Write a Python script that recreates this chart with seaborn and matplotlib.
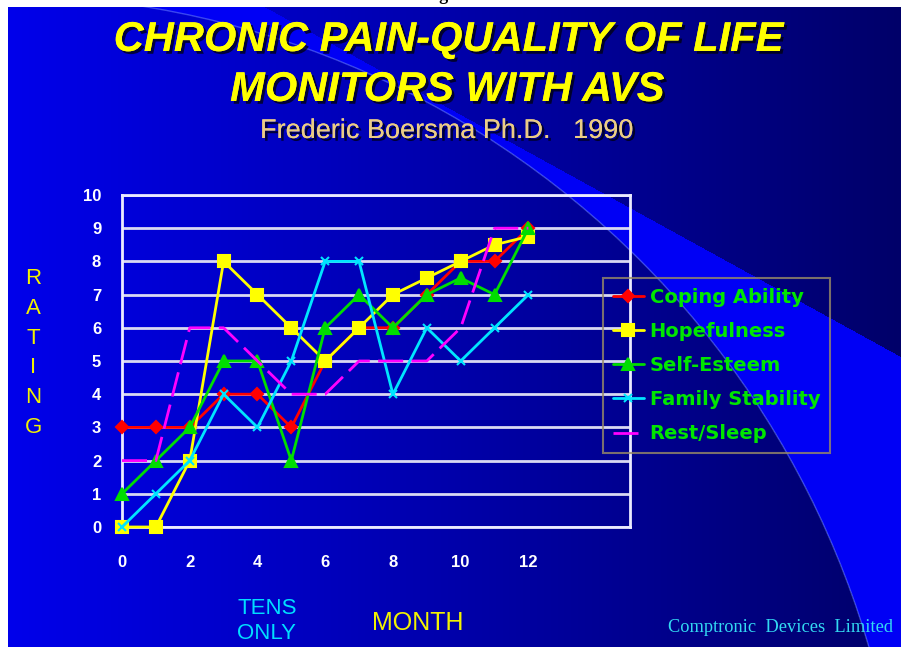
import numpy as np
import pandas as pd
import matplotlib
matplotlib.use('Agg')
import matplotlib.pyplot as plt
import matplotlib.patheffects as pe
from matplotlib.patches import Circle
import seaborn as sns

# Data
months = list(range(13))
coping_ability = [3, 3, 3, 4, 4, 3, 5, 6, 6, 7, 8, 8, 9]
hopefulness = [0, 0, 2, 8, 7, 6, 5, 6, 7, 7.5, 8, 8.5, 8.75]
self_esteem = [1, 2, 3, 5, 5, 2, 6, 7, 6, 7, 7.5, 7, 9]
family_stability = [0, 1, 2, 4, 3, 5, 8, 8, 4, 6, 5, 6, 7]
rest_sleep = [2, 2, 6, 6, 5, 4, 4, 5, 5, 5, 6, 9, 9]
series_names = ['Coping Ability', 'Hopefulness', 'Self-Esteem',
                'Family Stability', 'Rest/Sleep']
y_ticks = list(range(11))
x_tick_labels = ['0', '2', '4', '6', '8', '10', '12']

df = pd.DataFrame({'month': months,
                   'Coping Ability': coping_ability,
                   'Hopefulness': hopefulness,
                   'Self-Esteem': self_esteem,
                   'Family Stability': family_stability,
                   'Rest/Sleep': rest_sleep})
df = df.melt(id_vars='month', var_name='series', value_name='rating')

# line styles per series: colour, marker, marker size, linestyle
styles = {
    'Coping Ability': ('#ff0000', 'D', 6, '-'),
    'Hopefulness': ('#ffff00', 's', 8, '-'),
    'Self-Esteem': ('#00dd00', '^', 8, '-'),
    'Family Stability': ('#00e5ff', 'x', 6, '-'),
    'Rest/Sleep': ('#ff00ff', None, 0, (0, (9, 3))),
}

sns.set_theme(style='white')
plt.rcParams['font.family'] = ['Liberation Sans', 'DejaVu Sans']

W, H = 901, 647
fig = plt.figure(figsize=(W / 100, H / 100), dpi=100, facecolor='white')

# slide background: blue gradient with a lighter swoosh on the right
bg = fig.add_axes([8 / W, 0, 1 - 8 / W, 1 - 7 / H])
bg.set_axis_off()
xx, yy = np.meshgrid(np.arange(8, W) + 0.5, np.arange(7, H) + 0.5)
t = (xx - 8) / (W - 8)
img = np.zeros(xx.shape + (3,))
img[..., 2] = (235 - 130 * t) / 255
bright = (np.hypot(xx, yy - 900) > 905) & (yy > 197 + 0.55 * (xx - 610))
img[bright] = [0, 0, 245 / 255]
bg.imshow(img, extent=(8, W, H, 7), aspect='auto', interpolation='bilinear')
bg.add_patch(Circle((0, 900), 905, fill=False, ec=(0.45, 0.55, 1.0),
                    lw=1, alpha=0.5))
bg.set_xlim(8, W)
bg.set_ylim(H, 7)

# chart
ax = fig.add_axes([122 / W, 1 - 527 / H, 508 / W, 332 / H])
ax.patch.set_alpha(0)
for name in series_names:
    color, marker, ms, ls = styles[name]
    sub = df[df['series'] == name]
    sns.lineplot(data=sub, x='month', y='rating', ax=ax, color=color,
                 marker=marker, markersize=ms, markeredgecolor=color,
                 markeredgewidth=1.5, linestyle=ls, lw=2, label=name,
                 clip_on=False, zorder=3)

ax.set_xlim(0, 15)
ax.set_ylim(0, 10)
ax.set_yticks(y_ticks)
ax.set_yticklabels([str(v) for v in y_ticks])
ax.set_xticks(range(16))
label_map = {int(l): l for l in x_tick_labels}
ax.set_xticklabels([label_map.get(m, '') for m in range(16)])
ax.set_xlabel('')
ax.set_ylabel('')
ax.yaxis.grid(True, color=(0.85, 0.85, 0.95), lw=2)
ax.xaxis.grid(False)
for s in ax.spines.values():
    s.set_color((0.92, 0.92, 1.0))
    s.set_linewidth(2)
ax.tick_params(axis='both', direction='out', length=6, width=1.5,
               color=(0.75, 0.75, 0.85), labelcolor='white', labelsize=12)
ax.tick_params(axis='x', pad=14)
ax.tick_params(axis='y', pad=9)
for lab in ax.get_xticklabels() + ax.get_yticklabels():
    lab.set_fontweight('bold')

leg = ax.legend(loc='upper left', bbox_to_anchor=(603 / W, 1 - 278 / H),
                bbox_transform=fig.transFigure, frameon=True, fancybox=False,
                facecolor='none', edgecolor=(0.6, 0.55, 0.4),
                prop={'weight': 'bold', 'size': 14, 'family': 'DejaVu Sans'},
                labelcolor=(0, 0.9, 0), handlelength=1.6, handletextpad=0.3,
                labelspacing=0.78, borderpad=0.5, borderaxespad=0)
leg.get_frame().set_linewidth(1.5)

# slide texts
shadow = [pe.withSimplePatchShadow(offset=(2, -2), shadow_rgbFace='black',
                                   alpha=0.7), pe.Normal()]
fig.text(448 / W, 1 - 40 / H, 'CHRONIC PAIN-QUALITY OF LIFE', ha='center',
         va='center', fontsize=30, fontweight='bold', fontstyle='italic',
         color='#ffff00', path_effects=shadow)
fig.text(447 / W, 1 - 90 / H, 'MONITORS WITH AVS', ha='center',
         va='center', fontsize=30, fontweight='bold', fontstyle='italic',
         color='#ffff00', path_effects=shadow)
fig.text(447 / W, 1 - 131 / H, 'Frederic Boersma Ph.D.   1990', ha='center',
         va='center', fontsize=19.5, color=(0.92, 0.8, 0.52),
         path_effects=shadow)
fig.text(33 / W, 1 - 353 / H, 'R\nA\nT\nI\nN\nG', ha='center', va='center',
         fontsize=16, color=(0.95, 0.95, 0.0), linespacing=1.55)
fig.text(267 / W, 1 - 621 / H, 'TENS\nONLY', ha='center', va='center',
         fontsize=16, color=(0.0, 0.87, 1.0), linespacing=1.3)
fig.text(418 / W, 1 - 623 / H, 'MONTH', ha='center', va='center',
         fontsize=18, color=(0.95, 0.95, 0.0))
fig.text(668 / W, 1 - 628 / H, 'Comptronic  Devices  Limited', ha='left',
         va='center', fontsize=13.2, color=(0.2, 0.85, 0.95),
         family=['Liberation Serif', 'DejaVu Serif'])
fig.text(455 / W, 1 - 0.5 / H, 'Figure 6', ha='center', va='baseline',
         fontsize=13, fontweight='bold', color='black',
         family=['Liberation Serif', 'DejaVu Serif'])

fig.savefig('out.png', dpi=100, facecolor='white')
